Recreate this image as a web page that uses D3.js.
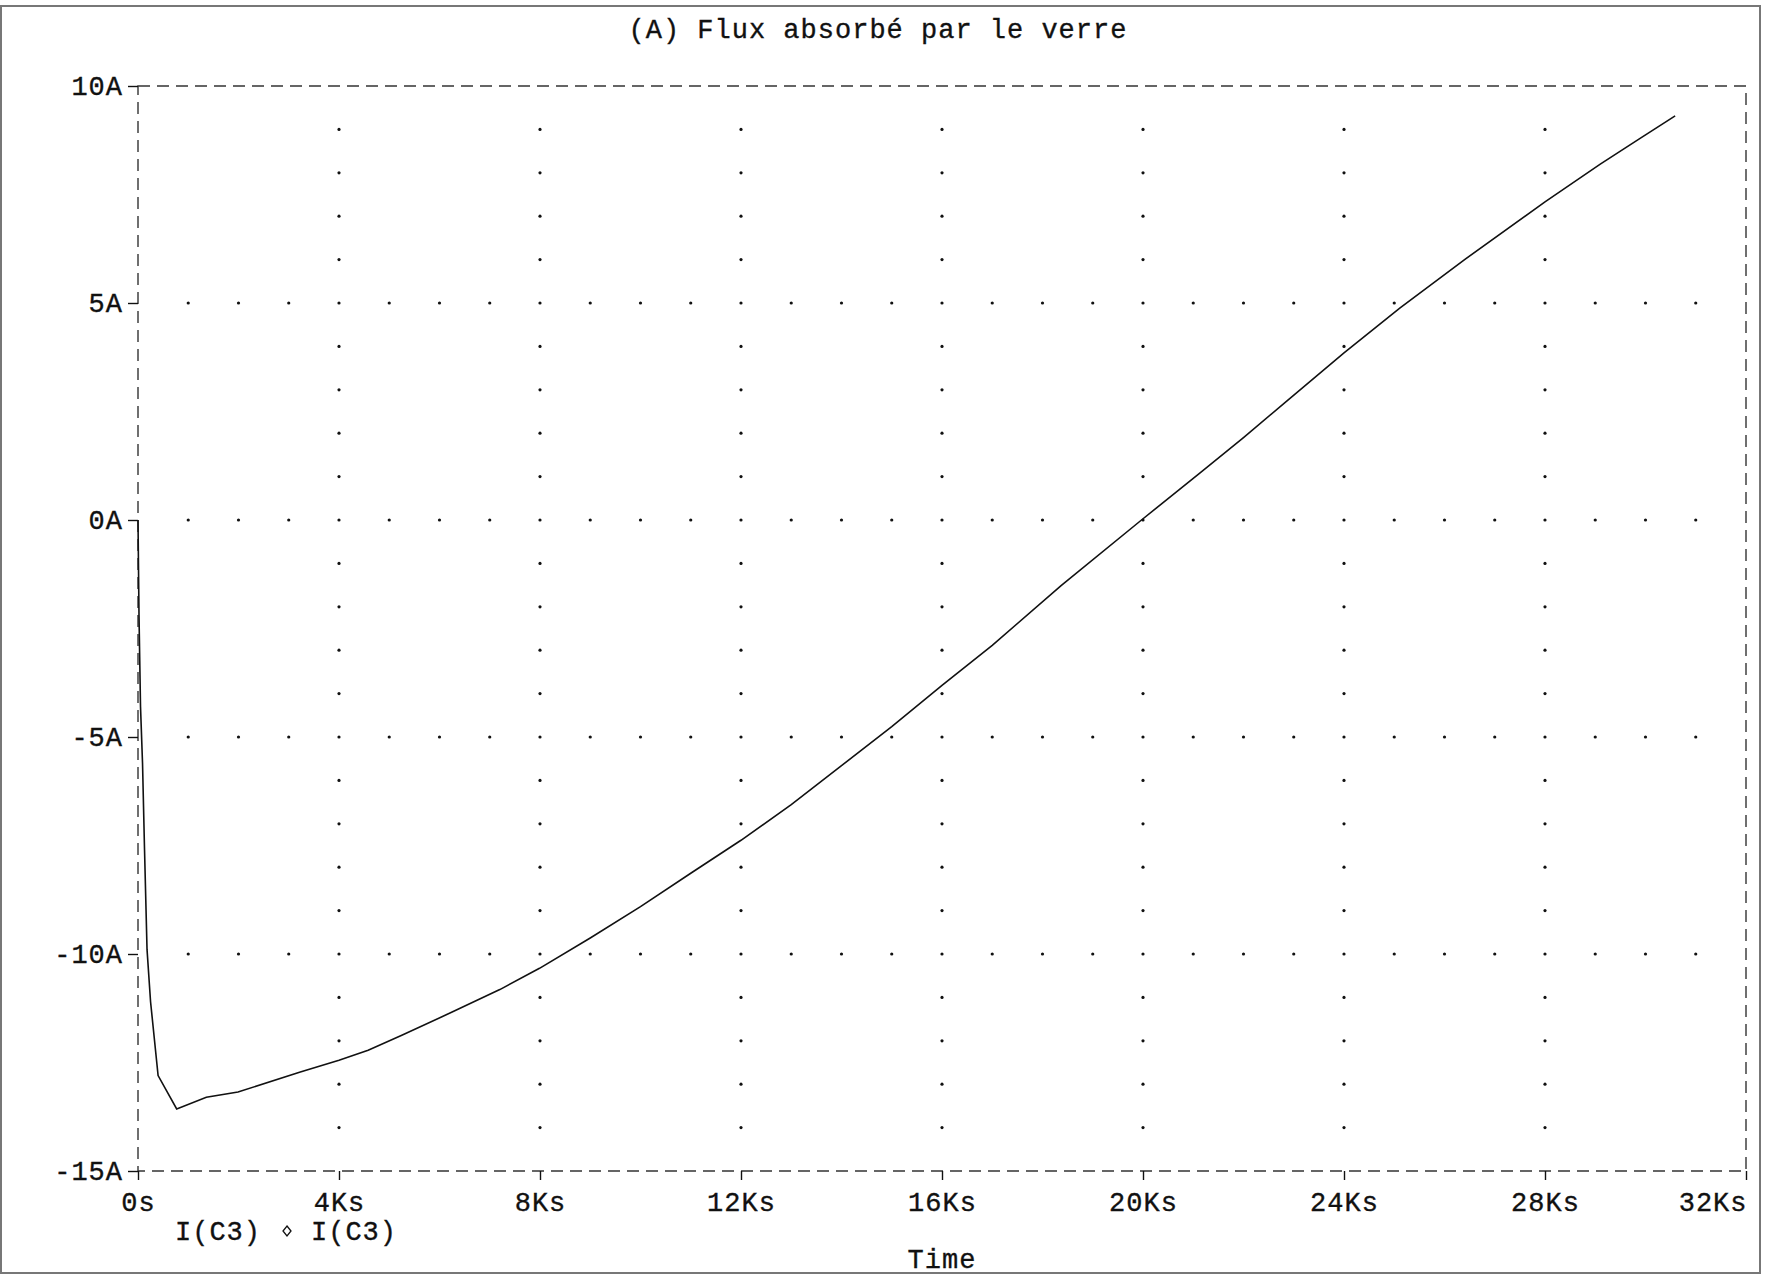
<!DOCTYPE html>
<html>
<head>
<meta charset="utf-8">
<script src="https://cdn.jsdelivr.net/npm/d3@7"></script>
<style>
  body { margin: 0; background: #fff; }
  svg { display: block; }
  text { font-family: "Liberation Mono", "Courier New", monospace; fill: #111; stroke: #111; stroke-width: 0.35; }
</style>
</head>
<body>
<div id="viz"></div>
<script>
const width = 1766;
const height = 1275;
const margin = {top: 86, right: 20, bottom: 104, left: 138};

// I(C3): time in Ks, current in A
const timeKs = [0, 0.02, 0.05, 0.09, 0.13, 0.18, 0.25, 0.40, 0.77, 1.36, 1.99, 3.23, 4.0, 4.58, 5.25, 6.23, 7.20, 7.99, 9.0, 10.0, 11.0, 12.0, 13.0, 14.0, 15.0, 16.0, 17.0, 18.37, 19.97, 21.13, 22.0, 22.86, 24.0, 25.11, 26.4, 28.0, 29.1, 29.9, 30.59];
const currentA = [0, -2.2, -4.3, -5.6, -7.6, -9.9, -11.1, -12.8, -13.57, -13.30, -13.18, -12.72, -12.45, -12.22, -11.87, -11.35, -10.82, -10.33, -9.63, -8.91, -8.14, -7.38, -6.56, -5.66, -4.76, -3.81, -2.89, -1.51, 0, 1.08, 1.90, 2.74, 3.85, 4.88, 6.0, 7.33, 8.2, 8.8, 9.31];

const xTicks = [0, 4, 8, 12, 16, 20, 24, 28, 32];
const xTickLabels = ['0s', '4Ks', '8Ks', '12Ks', '16Ks', '20Ks', '24Ks', '28Ks', '32Ks'];
const yTicks = [-15, -10, -5, 0, 5, 10];
const yTickLabels = ['-15A', '-10A', '-5A', '0A', '5A', '10A'];

const title = '(A) Flux absorbé par le verre';
const legendLabel = 'I(C3)';
const xTitle = 'Time';

const fontSize = 27;
const spacing = 1;

const data = timeKs.map((t, i) => ({t: t, v: currentA[i]}));

const scaleX = d3.scaleLinear()
  .domain([0, 32])
  .range([margin.left, width - margin.right]);

const scaleY = d3.scaleLinear()
  .domain([-15, 10])
  .range([height - margin.bottom, margin.top]);

const svg = d3.select('#viz')
  .append('svg')
    .attr('width', width)
    .attr('height', height);

// scanned page frame
svg.append('rect')
  .attr('x', 1).attr('y', 6)
  .attr('width', 1759).attr('height', 1267)
  .attr('fill', 'none')
  .attr('stroke', '#777')
  .attr('stroke-width', 2);

// dotted grid: columns at major x with 1A steps, rows at major y with 1Ks steps
const dots = [];
xTicks.slice(1, -1).forEach(x => {
  d3.range(-14, 10).forEach(y => dots.push([x, y]));
});
yTicks.slice(1, -1).forEach(y => {
  d3.range(1, 32).forEach(x => { if (x % 4 !== 0) dots.push([x, y]); });
});
svg.append('g')
  .selectAll('circle')
  .data(dots)
  .join('circle')
    .attr('cx', d => scaleX(d[0]))
    .attr('cy', d => scaleY(d[1]))
    .attr('r', 1.6)
    .attr('fill', '#111');

// dashed plot border
svg.append('rect')
  .attr('x', scaleX(0)).attr('y', scaleY(10))
  .attr('width', scaleX(32) - scaleX(0))
  .attr('height', scaleY(-15) - scaleY(10))
  .attr('fill', 'none')
  .attr('stroke', '#333')
  .attr('stroke-width', 1.4)
  .attr('stroke-dasharray', '12,7');

// axes
const axisBottom = d3.axisBottom(scaleX)
  .tickValues(xTicks)
  .tickFormat((d, i) => xTickLabels[i])
  .tickSize(9)
  .tickPadding(12);
const xAxis = svg.append('g')
  .attr('transform', `translate(0,${scaleY(-15)})`)
  .call(axisBottom);
xAxis.select('.domain').remove();
xAxis.selectAll('.tick line').attr('stroke', '#111').attr('stroke-width', 1.4);
xAxis.selectAll('.tick text')
  .attr('font-size', fontSize)
  .attr('letter-spacing', spacing)
  .attr('fill', '#111')
  .attr('text-anchor', (d, i) => i === xTicks.length - 1 ? 'end' : 'middle')
  .attr('dx', (d, i) => i === xTicks.length - 1 ? spacing : 0);

const axisLeft = d3.axisLeft(scaleY)
  .tickValues(yTicks)
  .tickFormat((d, i) => yTickLabels[i])
  .tickSize(10)
  .tickPadding(5);
const yAxis = svg.append('g')
  .attr('transform', `translate(${scaleX(0)},0)`)
  .call(axisLeft);
yAxis.select('.domain').remove();
yAxis.selectAll('.tick line').attr('stroke', '#111').attr('stroke-width', 1.4);
yAxis.selectAll('.tick text')
  .attr('font-size', fontSize)
  .attr('letter-spacing', spacing)
  .attr('fill', '#111');

// curve
const line = d3.line()
  .x(d => scaleX(d.t))
  .y(d => scaleY(d.v));
svg.append('path')
  .datum(data)
  .attr('d', line)
  .attr('fill', 'none')
  .attr('stroke', '#111')
  .attr('stroke-width', 1.6);

// title
svg.append('text')
  .attr('x', 878)
  .attr('y', 38)
  .attr('text-anchor', 'middle')
  .attr('font-size', fontSize)
  .attr('letter-spacing', spacing)
  .text(title);

// legend
svg.append('text')
  .attr('x', 175)
  .attr('y', 1240)
  .attr('font-size', fontSize)
  .attr('letter-spacing', spacing)
  .text(legendLabel);
svg.append('path')
  .attr('d', 'M0,-5L4,0L0,5L-4,0Z')
  .attr('transform', 'translate(287,1231)')
  .attr('fill', 'none')
  .attr('stroke', '#111')
  .attr('stroke-width', 1.3);
svg.append('text')
  .attr('x', 311)
  .attr('y', 1240)
  .attr('font-size', fontSize)
  .attr('letter-spacing', spacing)
  .text(legendLabel);

// x title
svg.append('text')
  .attr('x', (scaleX(0) + scaleX(32)) / 2)
  .attr('y', 1268)
  .attr('text-anchor', 'middle')
  .attr('font-size', fontSize)
  .attr('letter-spacing', spacing)
  .text(xTitle);
</script>
</body>
</html>
